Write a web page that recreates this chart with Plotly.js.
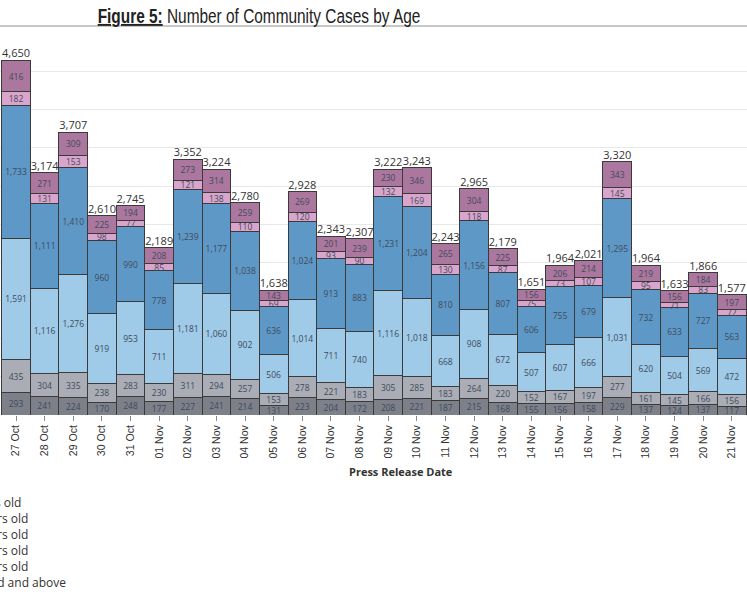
<!DOCTYPE html>
<html>
<head>
<meta charset="utf-8">
<script src="https://cdn.plot.ly/plotly-3.0.1.min.js"></script>
<style>
  html, body { margin: 0; padding: 0; background: #fff; }
  #chart { width: 747px; height: 598px; }
  /* no narrow font installed: squeeze the heading like Arial Narrow */
  #chart .gtitle { transform-box: fill-box; transform-origin: center; transform: scaleX(0.79); }
</style>
</head>
<body>
<div id="chart"></div>
<script>
// Press release dates (x categories)
const dates = ['27 Oct', '28 Oct', '29 Oct', '30 Oct', '31 Oct', '01 Nov', '02 Nov', '03 Nov', '04 Nov',
  '05 Nov', '06 Nov', '07 Nov', '08 Nov', '09 Nov', '10 Nov', '11 Nov', '12 Nov', '13 Nov', '14 Nov',
  '15 Nov', '16 Nov', '17 Nov', '18 Nov', '19 Nov', '20 Nov', '21 Nov'];

// Age group series, bottom of the stack first
const age0to11  = [293, 241, 224, 170, 248, 177, 227, 241, 214, 131, 223, 204, 172, 208, 221, 187, 215, 168, 155, 156, 158, 229, 137, 124, 137, 117];
const age12to19 = [435, 304, 335, 238, 283, 230, 311, 294, 257, 153, 278, 221, 183, 305, 285, 183, 264, 220, 152, 167, 197, 277, 161, 145, 166, 156];
const age20to39 = [1591, 1116, 1276, 919, 953, 711, 1181, 1060, 902, 506, 1014, 711, 740, 1116, 1018, 668, 908, 672, 507, 607, 666, 1031, 620, 504, 569, 472];
const age40to59 = [1733, 1111, 1410, 960, 990, 778, 1239, 1177, 1038, 636, 1024, 913, 883, 1231, 1204, 810, 1156, 807, 606, 755, 679, 1295, 732, 633, 727, 563];
const age60to69 = [182, 131, 153, 98, 77, 85, 121, 138, 110, 69, 120, 93, 90, 132, 169, 130, 118, 87, 75, 73, 107, 145, 95, 71, 83, 72];
const age70plus = [416, 271, 309, 225, 194, 208, 273, 314, 259, 143, 269, 201, 239, 230, 346, 265, 304, 225, 156, 206, 214, 343, 219, 156, 184, 197];

// Daily totals shown above each bar
const totals = [4650, 3174, 3707, 2610, 2745, 2189, 3352, 3224, 2780, 1638, 2928, 2343, 2307, 3222, 3243, 2243, 2965, 2179, 1651, 1964, 2021, 3320, 1964, 1633, 1866, 1577];

const groups = [
  { name: '0 - 11 years old',       y: age0to11,  color: '#7d8089' },
  { name: '12 - 19 years old',      y: age12to19, color: '#aaadb5' },
  { name: '20 - 39 years old',      y: age20to39, color: '#9fcae8' },
  { name: '40 - 59 years old',      y: age40to59, color: '#5e98c6' },
  { name: '60 - 69 years old',      y: age60to69, color: '#daa5cc' },
  { name: '70 years old and above', y: age70plus, color: '#ab779e' },
];

// layout geometry (px)
const TOP = 48, BOTTOM = 183, PLOT_H = 598 - TOP - BOTTOM;
const pxToPaper = py => (598 - BOTTOM - py) / PLOT_H;

const traces = groups.map((g, i) => ({
  type: 'bar',
  name: g.name,
  x: dates,
  y: g.y,
  legend: i === 0 ? 'legend' : 'legend' + (i + 1),
  marker: { color: g.color, line: { color: '#3a3a3a', width: 1 } },
  texttemplate: '%{y:,}',
  textposition: 'inside',
  insidetextanchor: 'middle',
  textangle: 0,
  constraintext: 'none',
  textfont: { family: 'Open Sans, sans-serif', size: 8.5, color: '#3e4b5b' },
  hoverinfo: 'x+y+name',
}));

// total labels on top of each stack
traces.push({
  type: 'scatter',
  mode: 'text',
  x: dates,
  y: totals,
  texttemplate: '%{y:,}',
  textposition: 'top center',
  textfont: { family: 'Open Sans, sans-serif', size: 11, color: '#333' },
  showlegend: false,
  hoverinfo: 'skip',
  cliponaxis: false,
});

// one legend per entry so the rows sit 16px apart, as in the original
const legends = {};
groups.forEach((g, i) => {
  const key = i === 0 ? 'legend' : 'legend' + (i + 1);
  legends[key] = {
    x: -0.138, xanchor: 'left',
    y: pxToPaper(502 + 16 * i), yanchor: 'middle',
    font: { family: 'Open Sans, sans-serif', size: 12, color: '#333' },
    bgcolor: 'rgba(0,0,0,0)',
  };
});

const layout = {
  width: 747,
  height: 598,
  margin: { l: 0, r: 0, t: TOP, b: BOTTOM, autoexpand: false },
  paper_bgcolor: '#fff',
  plot_bgcolor: '#fff',
  barmode: 'stack',
  bargap: 0,
  showlegend: true,
  ...legends,
  title: {
    text: '<b><u>Figure 5:</u></b> Number of Community Cases by Age',
    font: { family: 'Liberation Sans, Arial, sans-serif', size: 19.5, color: '#222' },
    x: 259 / 747, xanchor: 'center',
    yref: 'container', y: 1 - 16 / 598, yanchor: 'middle',
  },
  xaxis: {
    type: 'category',
    range: [-0.56, 25.53],
    tickangle: -90,
    ticks: 'outside',
    ticklen: 5,
    tickcolor: '#888',
    tickfont: { family: 'Liberation Sans, Arial, sans-serif', size: 10.5, color: '#333' },
    showgrid: false,
    showline: false,
    zeroline: false,
  },
  yaxis: {
    range: [0, 4810],
    dtick: 500,
    showticklabels: false,
    gridcolor: '#e8e8e8',
    gridwidth: 1,
    zeroline: false,
    showline: false,
  },
  shapes: [
    // rule under the figure heading
    { type: 'line', xref: 'paper', yref: 'paper', x0: 0, x1: 1, y0: pxToPaper(26), y1: pxToPaper(26),
      line: { color: '#b4b4b4', width: 1.5 } },
  ],
  annotations: [
    { text: '<b>Press Release Date</b>', xref: 'paper', yref: 'paper',
      x: 401 / 747, y: pxToPaper(471), xanchor: 'center', yanchor: 'middle', showarrow: false,
      font: { family: 'Open Sans, sans-serif', size: 11, color: '#333' } },
  ],
};

Plotly.newPlot('chart', traces, layout, { displayModeBar: false, staticPlot: true });
</script>
</body>
</html>
